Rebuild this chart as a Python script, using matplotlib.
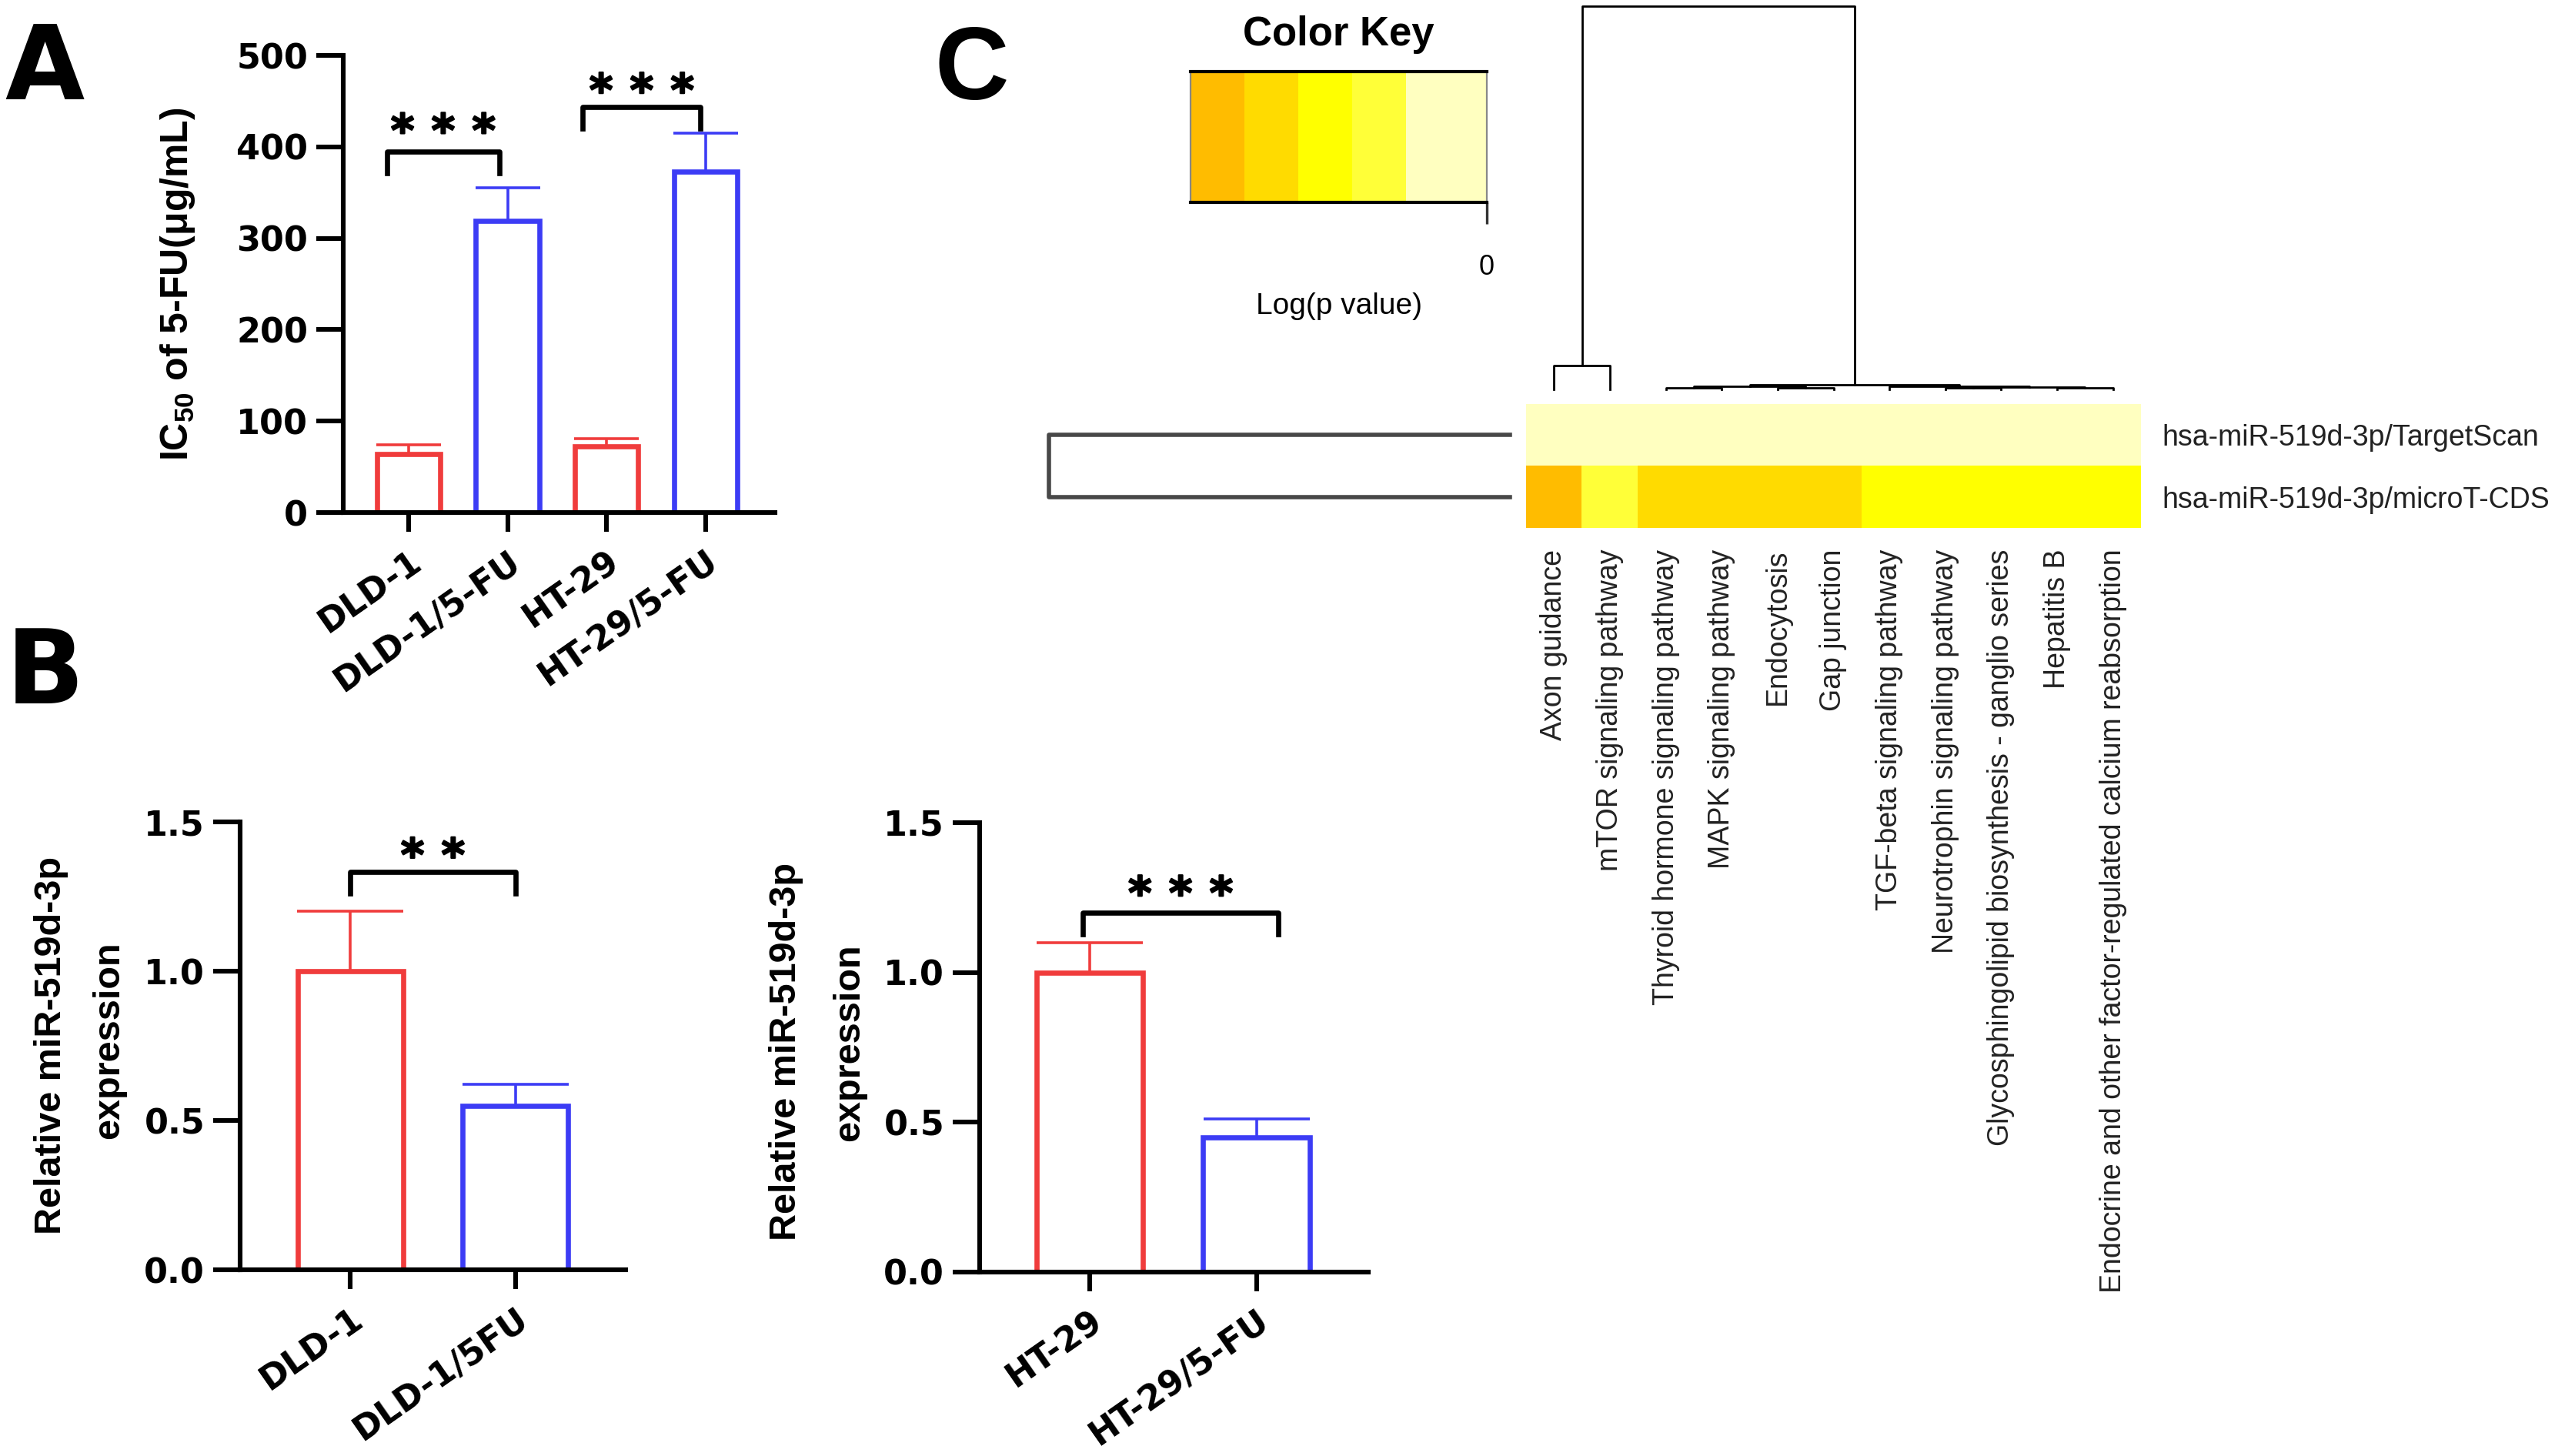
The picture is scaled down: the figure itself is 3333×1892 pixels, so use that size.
import matplotlib
matplotlib.use("Agg")
import matplotlib.pyplot as plt
import matplotlib.transforms as mtransforms
import matplotlib.patheffects as pe
from matplotlib.colors import ListedColormap, BoundaryNorm
import numpy as np

plt.rcParams["font.family"] = ["Liberation Sans", "DejaVu Sans"]
plt.rcParams["mathtext.fontset"] = "custom"
plt.rcParams["mathtext.rm"] = "Liberation Sans:bold"
plt.rcParams["mathtext.it"] = "Liberation Sans:italic:bold"
plt.rcParams["mathtext.bf"] = "Liberation Sans:bold"

# ---- data ----
# A: IC50 of 5-FU
ic50_groups = ["DLD-1", "DLD-1/5-FU", "HT-29", "HT-29/5-FU"]
ic50_mean = [64, 319, 72, 373]
ic50_sd = [10, 36, 9, 42]

# B: relative miR-519d-3p expression
dld_groups = ["DLD-1", "DLD-1/5FU"]
dld_mean = [1.0, 0.55]
dld_sd = [0.2, 0.07]
ht_groups = ["HT-29", "HT-29/5-FU"]
ht_mean = [1.0, 0.45]
ht_sd = [0.1, 0.06]

# C: KEGG pathway heatmap, log(p value)
pathways = ["Axon guidance", "mTOR signaling pathway",
            "Thyroid hormone signaling pathway", "MAPK signaling pathway",
            "Endocytosis", "Gap junction", "TGF-beta signaling pathway",
            "Neurotrophin signaling pathway",
            "Glycosphingolipid biosynthesis - ganglio series", "Hepatitis B",
            "Endocrine and other factor-regulated calcium reabsorption"]
sources = ["hsa-miR-519d-3p/TargetScan", "hsa-miR-519d-3p/microT-CDS"]
logp_targetscan = [-0.5, -0.5, -0.5, -0.5, -0.5, -0.5, -0.5, -0.5, -0.5, -0.5, -0.5]
logp_microt = [-5, -2, -4, -4, -4, -4, -3, -3, -3, -3, -3]
key_bounds = [-5.5, -4.5, -3.5, -2.5, -1.5, 0]
key_colors = ["#ffbc00", "#ffdb00", "#ffff00", "#ffff38", "#ffffc0"]

# dendrogram merges: (left id, right id, height); leaves first, new ids follow
col_merges = [(0, 1, 0.062), (2, 3, 0.004), (4, 5, 0.005), (12, 13, 0.008),
              (7, 8, 0.004), (9, 10, 0.005), (15, 16, 0.007), (6, 17, 0.009),
              (14, 18, 0.012), (11, 19, 1.0)]
row_merges = [(0, 1, 1.0)]

RED = "#f03c3c"
BLUE = "#3c3cf5"
TICK_FONT = dict(family="DejaVu Sans", weight="bold", size=16)

W, H = 3333, 1892
fig = plt.figure(figsize=(W / 200, H / 200), dpi=200)


def px_axes(x0, y0, x1, y1):
    return fig.add_axes([x0 / W, 1 - y1 / H, (x1 - x0) / W, (y1 - y0) / H])


def fxy(x, y):
    return x / W, 1 - y / H


def bar_panel(ax, groups, mean, sd, ymax, yticks, fmt, capsize, xlim):
    x = np.arange(len(groups))
    colors = [RED, BLUE] * (len(groups) // 2)
    ax.bar(x, mean, width=0.64, color="white", edgecolor=colors, linewidth=2.4, zorder=2)
    for xi, m, s, c in zip(x, mean, sd, colors):
        ax.errorbar(xi, m, yerr=[[0], [s]], fmt="none", ecolor=c, elinewidth=1.3,
                    capsize=capsize, capthick=1.3, zorder=3)
    ax.set_xlim(*xlim)
    ax.set_ylim(0, ymax)
    ax.set_yticks(yticks)
    ax.set_yticklabels([fmt.format(t) for t in yticks], **TICK_FONT)
    ax.set_xticks(x)
    ax.set_xticklabels(groups, rotation=35, ha="right", rotation_mode="anchor", **TICK_FONT)
    for s in ("top", "right"):
        ax.spines[s].set_visible(False)
    for s in ("left", "bottom"):
        ax.spines[s].set_linewidth(2.2)
    ax.tick_params(axis="y", length=12.5, width=2.2, pad=4)
    ax.tick_params(axis="x", length=9, width=2.2, pad=6)


def bracket(ax, x0, x1, y, ylow, ystar, n_stars):
    ax.plot([x0, x0, x1, x1], [ylow, y, y, ylow], color="black", lw=2.4, clip_on=False)
    for i in range(n_stars):
        tr = mtransforms.offset_copy(ax.transData, fig=fig, x=(i - (n_stars - 1) / 2) * 19,
                                     y=-0.55 * 21, units="points")
        ax.text((x0 + x1) / 2, ystar, "*", transform=tr, ha="center", va="baseline",
                family="DejaVu Sans", weight="bold", size=21,
                path_effects=[pe.withStroke(linewidth=0.8, foreground="black")])


def draw_dendro(ax, merges, n, orient, **kw):
    pos = {i: float(i) for i in range(n)}
    hgt = {i: 0.0 for i in range(n)}
    for k, (a, b, h) in enumerate(merges):
        xs = [pos[a], pos[a], pos[b], pos[b]]
        hs = [hgt[a], h, h, hgt[b]]
        if orient == "top":
            ax.plot(xs, hs, clip_on=False, **kw)
        else:
            ax.plot(hs, xs, clip_on=False, **kw)
        pos[n + k] = (pos[a] + pos[b]) / 2
        hgt[n + k] = h


# ---- panel A ----
axA = px_axes(446, 72, 1007, 666)
bar_panel(axA, ic50_groups, ic50_mean, ic50_sd, 500, [0, 100, 200, 300, 400, 500],
          "{:.0f}", 15, (-0.66, 3.70))
bracket(axA, -0.22, 0.92, 395, 371, 428, 3)
bracket(axA, 1.76, 2.95, 444, 420, 472, 3)
fig.text(*fxy(231, 369), "IC$_{50}$ of 5-FU(μg/mL)", rotation=90, ha="center",
         va="center", size=18, weight="bold")

# ---- panel B ----
axB1 = px_axes(312, 1068, 813, 1650)
bar_panel(axB1, dld_groups, dld_mean, dld_sd, 1.5, [0, 0.5, 1.0, 1.5], "{:.1f}", 25,
          (-0.67, 1.67))
bracket(axB1, 0, 1, 1.333, 1.26, 1.42, 2)
fig.text(*fxy(67, 1358), "Relative miR-519d-3p", rotation=90, ha="center", va="center",
         size=17.5, weight="bold")
fig.text(*fxy(142, 1352), "expression", rotation=90, ha="center", va="center",
         size=17.5, weight="bold")

axB2 = px_axes(1273, 1069, 1778, 1653)
bar_panel(axB2, ht_groups, ht_mean, ht_sd, 1.5, [0, 0.5, 1.0, 1.5], "{:.1f}", 25,
          (-0.66, 1.67))
bracket(axB2, -0.04, 1.13, 1.2, 1.127, 1.296, 3)
fig.text(*fxy(1021, 1366), "Relative miR-519d-3p", rotation=90, ha="center", va="center",
         size=17.5, weight="bold")
fig.text(*fxy(1104, 1355), "expression", rotation=90, ha="center", va="center",
         size=17.5, weight="bold")

# ---- panel C ----
cmap = ListedColormap(key_colors)
norm = BoundaryNorm(key_bounds, cmap.N)

axH = px_axes(1983, 525, 2782, 686)
axH.imshow(np.array([logp_targetscan, logp_microt]), cmap=cmap, norm=norm,
           aspect="auto", interpolation="nearest")
axH.set_xticks(range(len(pathways)))
axH.set_xticklabels(pathways, rotation=90, size=13.5, color="#222222")
axH.set_yticks(range(len(sources)))
axH.set_yticklabels(sources, size=13.5, color="#222222")
axH.yaxis.tick_right()
axH.tick_params(length=0, pad=10)
for s in axH.spines.values():
    s.set_visible(False)

axK = px_axes(1547, 93, 1932, 263)
mids = [(a + b) / 2 for a, b in zip(key_bounds[:-1], key_bounds[1:])]
axK.pcolormesh(key_bounds, [0, 1], [mids], cmap=cmap, norm=norm)
axK.set_xlim(key_bounds[0], key_bounds[-1])
axK.set_ylim(0, 1)
axK.set_xticks([0])
axK.set_xticklabels(["0"], size=13)
axK.set_yticks([])
axK.tick_params(axis="x", length=10, width=1.2, color="#333333", pad=14)
axK.set_xlabel("Log(p value)", size=14)
axK.xaxis.set_label_coords(0.5, -0.69)
for s in ("top", "bottom"):
    axK.spines[s].set_linewidth(1.5)
for s in ("left", "right"):
    axK.spines[s].set_linewidth(0.8)
    axK.spines[s].set_color("#888888")
fig.text(*fxy(1739, 45), "Color Key", ha="center", va="center", size=19, weight="bold")

axC = px_axes(1983, 8, 2782, 506)
axC.set_xlim(-0.5, len(pathways) - 0.5)
axC.set_ylim(0, 1)
axC.axis("off")
draw_dendro(axC, col_merges, len(pathways), "top", color="black", lw=1.0)

axR = px_axes(1363, 525, 1962, 686)
axR.set_xlim(1, 0)
axR.set_ylim(len(sources) - 0.5, -0.5)
axR.axis("off")
draw_dendro(axR, row_merges, len(sources), "left", color="#484848", lw=2.0)

# panel letters
fig.text(*fxy(6, 129), "A", family="DejaVu Sans", weight="bold", size=48, va="baseline")
fig.text(*fxy(8, 914), "B", family="DejaVu Sans", weight="bold", size=48, va="baseline")
fig.text(*fxy(1214, 129), "C", family="Liberation Sans", weight="bold", size=48, va="baseline")

fig.savefig("out.png", dpi=200)
